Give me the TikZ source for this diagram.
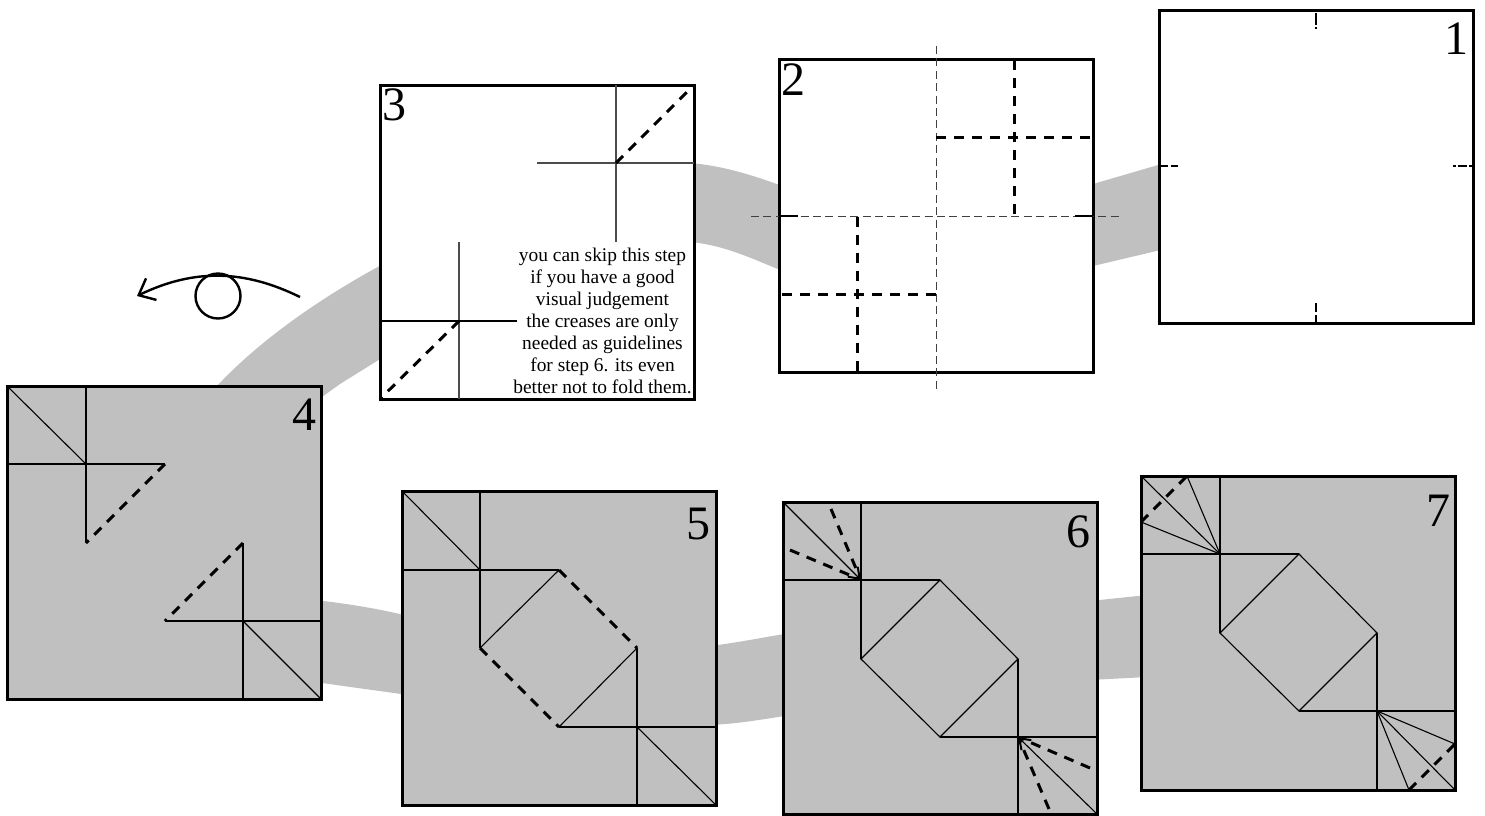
\documentclass[tikz,border=0pt]{standalone}
\usepackage{fontspec}
\setmainfont{Liberation Serif}
\usetikzlibrary{arrows.meta}
\definecolor{paper}{RGB}{192,192,192}
\tikzset{
  band/.style={fill=paper,draw=none},
  white sheet/.style={draw=black,fill=white,line width=1.5pt,line join=miter},
  grey sheet/.style={draw=black,fill=paper,line width=1.5pt,line join=miter},
  crease/.style={draw=black,line width=0.55pt},
  softcrease/.style={draw=black!70,line width=0.55pt},
  fold/.style={draw=black,line width=1.5pt,dash pattern=on 5pt off 4pt},
  guide/.style={draw=black!75,line width=0.5pt,dash pattern=on 4pt off 2.2pt},
  tick/.style={draw=black,line width=1.4pt},
  stepnum/.style={inner sep=0pt,font=\fontsize{24}{24}\selectfont},
  pinch/.style={crease,-{Straight Barb[length=5pt,width=7pt,line width=1pt]}},
  sweep/.style={draw=black,line width=1.2pt,-{Straight Barb[length=7pt,width=12pt,line width=1.2pt]}},
  eyeball/.style={draw=black,line width=1.2pt},
  note/.style={inner sep=0pt,align=center,font=\fontsize{9.7}{11}\selectfont}
}
\begin{document}
\begin{tikzpicture}[x=0.5pt,y=-0.5pt]
\useasboundingbox (0,0) rectangle (1485,815);
% ribbon
\fill[band] (1165,163) -- (1093,184) -- (1093,266) -- (1165,249) -- cycle;
\fill[band] (785,187) .. controls (755,176) and (725,166) .. (690,163) -- (690,242) .. controls (725,245) and (755,260) .. (785,272) -- cycle;
\fill[band] (217,386) .. controls (260,340) and (320,298) .. (385,263) -- (385,356) -- (340,384) -- (315,402) -- cycle;
\fill[band] (315,600) .. controls (350,604) and (380,609) .. (408,616) -- (408,695) .. controls (380,691) and (350,687) .. (315,682) -- cycle;
\fill[band] (710,646) .. controls (735,643) and (760,638) .. (790,633) -- (790,715) .. controls (760,720) and (735,724) .. (710,725) -- cycle;
\fill[band] (1090,601) -- (1147,595) -- (1147,677) -- (1090,680) -- cycle;
% sheet 1
\path[white sheet] (1159,10) rectangle (1473,323);
\draw[tick,dash pattern=on 6pt off 1pt on 1pt] (1316,13) -- (1316,29);
\draw[tick,dash pattern=on 4.5pt off 1.5pt on 3.5pt] (1316,303) -- (1316,322);
\draw[tick,dash pattern=on 4pt off 1.5pt on 4pt] (1160,166) -- (1178,166);
\draw[tick,dash pattern=on 1.5pt off 1pt on 4.5pt off 1pt on 1.5pt] (1453,166) -- (1472,166);
\node[stepnum] (n1) at (1456,39) {1};
% sheet 2
\path[white sheet] (779,59) rectangle (1093,372);
\draw[guide] (936,46) -- (936,391);
\draw[guide] (751,216) -- (1120,216);
\draw[crease] (779,216) -- (798,216);
\draw[crease] (1075,216) -- (1093,216);
\draw[fold] (1014,60) -- (1014,216);
\draw[fold] (936,137) -- (1093,137);
\draw[fold] (857,371) -- (857,216);
\draw[fold] (936,294) -- (779,294);
\node[stepnum] (n2) at (793,80) {2};
% sheet 3
\path[white sheet] (380,85) rectangle (694,399);
\draw[softcrease] (616,85) -- (616,242);
\draw[softcrease] (537,163) -- (694,163);
\draw[fold] (616,163) -- (693,86);
\draw[softcrease] (459,242) -- (459,399);
\draw[crease] (380,321) -- (517,321);
\draw[fold] (459,321) -- (381,398);
\node[stepnum] (n3) at (394,105) {3};
\node[note] (tip) at (602.5,321) {you can skip this step\\if you have a good\\visual judgement\\the creases are only\\needed as guidelines\\for step 6. its even\\better not to fold them.};
% sheet 4
\path[grey sheet] (7,386) rectangle (321,699);
\draw[crease] (7,386) -- (86,464);
\draw[crease] (86,386) -- (86,543);
\draw[crease] (7,464) -- (165,464);
\draw[fold] (165,464) -- (86,543);
\draw[crease] (243,543) -- (243,699);
\draw[crease] (165,621) -- (321,621);
\draw[crease] (243,621) -- (321,699);
\draw[fold] (243,543) -- (165,621);
\node[stepnum] (n4) at (304,415) {4};
% sheet 5
\path[grey sheet] (402,491) rectangle (716,805);
\draw[crease] (402,491) -- (480,570);
\draw[crease] (480,491) -- (480,648);
\draw[crease] (402,570) -- (559,570);
\draw[crease] (480,648) -- (559,570);
\draw[fold] (559,570) -- (637,648);
\draw[fold] (480,648) -- (559,727);
\draw[crease] (559,727) -- (637,648);
\draw[crease] (637,648) -- (637,805);
\draw[crease] (559,727) -- (716,727);
\draw[crease] (637,727) -- (716,805);
\node[stepnum] (n5) at (698,524) {5};
% sheet 6
\path[grey sheet] (783,502) rectangle (1097,814);
\draw[pinch] (783,502) -- (861,580);
\draw[crease] (861,502) -- (861,659);
\draw[crease] (783,580) -- (940,580);
\draw[crease] (861,659) -- (940,580) -- (1018,659) -- (940,737) -- cycle;
\draw[crease] (1018,659) -- (1018,814);
\draw[crease] (940,737) -- (1097,737);
\draw[pinch] (1097,814) -- (1018,737);
\draw[fold] (831,509) -- (860,578);
\draw[fold] (790,550) -- (859,579);
\draw[fold] (1090,768) -- (1020,738);
\draw[fold] (1049,809) -- (1019,739);
\node[stepnum] (n6) at (1078,532) {6};
% sheet 7
\path[grey sheet] (1141,476) rectangle (1455,790);
\draw[crease] (1220,476) -- (1220,633);
\draw[crease] (1141,554) -- (1299,554);
\draw[crease] (1220,633) -- (1299,554) -- (1377,633) -- (1299,711) -- cycle;
\draw[crease] (1377,633) -- (1377,790);
\draw[crease] (1299,711) -- (1455,711);
\draw[crease] (1141,476) -- (1220,554);
\draw[crease] (1187,476) -- (1220,554) -- (1141,522);
\draw[crease] (1455,790) -- (1377,711);
\draw[crease] (1409,790) -- (1377,711) -- (1455,744);
\draw[fold] (1141,522) -- (1187,476);
\draw[fold] (1409,790) -- (1455,744);
\node[stepnum] (n7) at (1438,511) {7};
% eye
\coordinate (lidstart) at (300,297);
\coordinate (lidend) at (137,296);
\node[circle,eyeball,minimum size=22.5pt,inner sep=0pt] (eye) at (218,296) {};
\draw[sweep] (lidstart) .. controls (245,270) and (195,268) .. (lidend);
\end{tikzpicture}
\end{document}
